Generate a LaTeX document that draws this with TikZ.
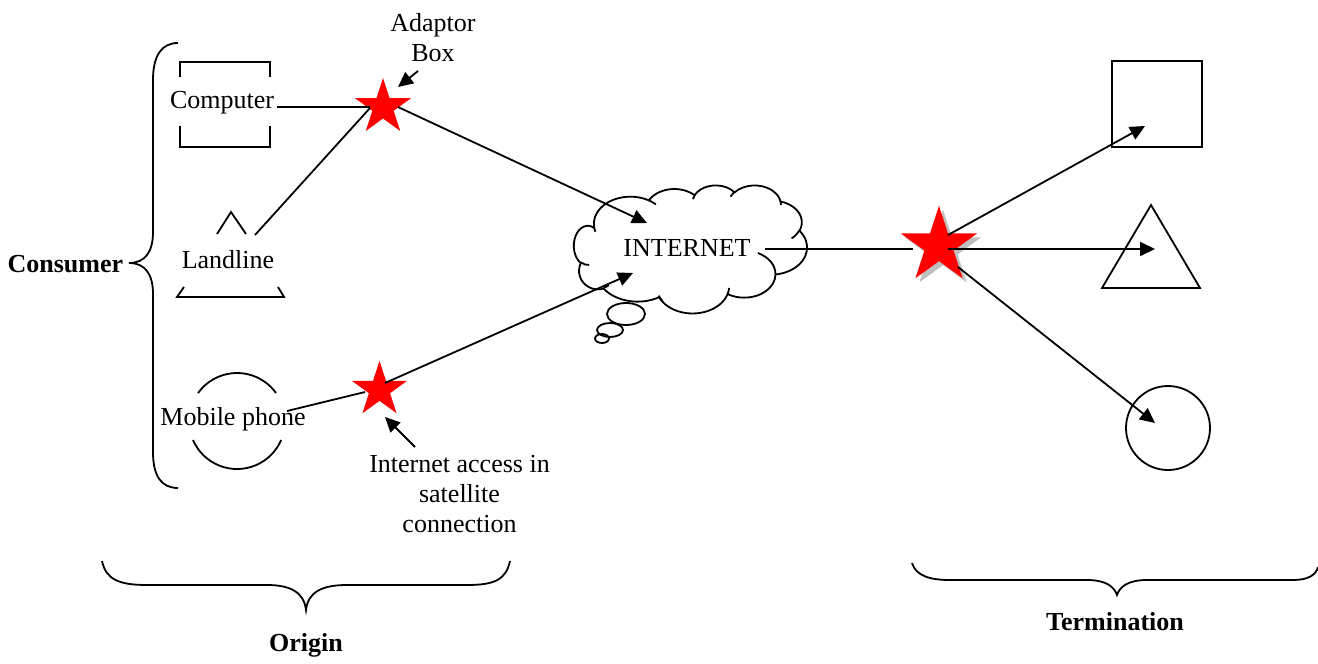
\documentclass[tikz,border=0pt]{standalone}
\usepackage{fontspec}
\setmainfont{Liberation Serif}
\usetikzlibrary{arrows.meta,shapes.geometric,calc}
\begin{document}
\begin{tikzpicture}[x=1pt,y=-1pt,
  font=\fontsize{26}{30}\selectfont,
  line width=1.8pt,
  conn/.style={draw,line width=1.8pt},
  arr/.style={conn,-{Triangle[length=15pt,width=14pt]}},
  label/.style={inner sep=0pt,align=center},
  starshape/.style={star,star points=5,star point ratio=2.618,draw=none,inner sep=0pt},
  redstar/.style={starshape,fill=red},
  brace/.style={draw,line width=1.8pt},
  outline/.style={draw,line width=1.8pt},
  % one lobe of the cloud: wR, hR (path units), rx, ry (px), start and end angle (deg)
  puff/.style n args={6}{x radius=#3, y radius=#4,
    start angle={atan2(#1*sin(#5),#2*cos(#5))},
    delta angle={mod(atan2(#1*sin(#6),#2*cos(#6))-atan2(#1*sin(#5),#2*cos(#5))+720,360)}}]
\useasboundingbox (0,0) rectangle (1318,664);

% ---- stars (adaptor box, satellite link, termination point) ----
\node[redstar,minimum size=58.6pt] (s1) at (383,107.3) {};
\node[redstar,minimum size=58pt] (s2) at (379.5,389.8) {};
\node[starshape,fill=black!25,minimum size=80.2pt] (s3shadow) at (943,249.8) {};
\node[redstar,minimum size=80.2pt] (s3) at (939,245.8) {};

% ---- consumer devices ----
\node[label] (comp) at (222,103) {Computer};
\draw[outline] (180,77) -- (180,62) -- (270,62) -- (270,77);
\draw[outline] (180,126) -- (180,147) -- (270,147) -- (270,126);

\node[label] (land) at (228,260) {Landline};
\draw[outline] (217,234) -- (231,212) -- (246,234);
\draw[outline] (184,287) -- (177,297) -- (284,297) -- (278,287);

\node[label] (mob) at (233,419) {Mobile phone};
\draw[outline] (276,393) arc[start angle=35.7,end angle=144.3,radius=48pt];
\draw[outline] (193,440) arc[start angle=203.3,end angle=336.7,radius=48pt];

% ---- internet cloud ----
\begin{scope}[shift={(573,185)}]
  \draw[outline,fill=white] (21.125,42.578)
    arc[puff={6753}{9190}{36.579}{27.230}{-190.4875}{-66.7070}]
    arc[puff={5333}{7267}{28.887}{21.532}{-144.1024}{-54.1572}]
    arc[puff={4365}{5945}{23.644}{17.615}{-145.8079}{-46.0849}]
    arc[puff={4857}{6595}{26.309}{19.541}{-130.9861}{-13.7444}]
    arc[puff={5333}{7273}{28.887}{21.550}{-78.7089}{30.3180}]
    arc[puff={6775}{9220}{36.698}{27.319}{-46.2763}{84.13}]
    arc[puff={5785}{7867}{31.335}{23.310}{0.6250}{114.6583}]
    arc[puff={6752}{9215}{36.573}{27.304}{22.4590}{149.0012}]
    arc[puff={7720}{10543}{41.817}{31.239}{66.2426}{135.6091}]
    arc[start angle=73,end angle=205,x radius=19,y radius=18.5]
    arc[start angle=120,end angle=295.8,x radius=14,y radius=20]
    -- cycle;
  % inner strokes of the lobes
  \draw[outline] (16.2,79.9) arc[start angle=85,end angle=120,x radius=14,y radius=20];
  \draw[outline] (35.9,100.2) arc[start angle=55,end angle=73,x radius=19,y radius=18.5];
  \draw[outline] (89.256,115.822) arc[puff={6752}{9215}{36.573}{27.304}{137.6242}{151.7053}];
  \draw[outline] (156.146,102.966) arc[puff={6752}{9215}{36.573}{27.304}{6.4533}{22.4517}];
  \draw[outline] (184.866,68.012) arc[puff={5785}{7867}{31.335}{23.310}{-70.2924}{0.6250}];
  \draw[outline] (226.406,45.493) arc[puff={5333}{7273}{28.887}{21.550}{30.3180}{58.0695}];
  \draw[outline] (207.588,16.077) arc[puff={4857}{6595}{26.309}{19.541}{-13.7443}{1.1146}];
  \draw[outline] (157.506,11.710) arc[puff={4857}{6595}{26.309}{19.541}{-149.1815}{-130.9861}];
  \draw[outline] (119.930,13.985) arc[puff={4365}{5945}{23.644}{17.615}{-163.4943}{-145.8079}];
  \draw[outline] (75.833,15.384) arc[puff={6753}{9190}{36.579}{27.230}{-66.7070}{-54.3876}];
  \draw[outline] (22.355,46.782) arc[puff={6753}{9190}{36.579}{27.230}{157.6544}{169.5126}];
\end{scope}
\coordinate (net) at (690,249);
\node[label] (nettext) at (687,248) {INTERNET};
\draw[outline] (626,314) ellipse [x radius=19pt,y radius=11pt];
\draw[outline] (610,330) ellipse [x radius=13pt,y radius=7pt];
\draw[outline] (602,338.5) ellipse [x radius=7pt,y radius=4.5pt];

% ---- termination devices ----
\node[draw,line width=1.8pt,minimum width=90pt,minimum height=86pt,inner sep=0pt] (sq) at (1157,104) {};
\draw[outline] (1151,205) -- (1200,288) -- (1102,288) -- cycle;
\node[circle,draw,line width=1.8pt,minimum size=84pt,inner sep=0pt] (circ) at (1168,428) {};

% ---- connector end points ----
\coordinate (compout) at (277,107);
\coordinate (landout) at (255,235);
\coordinate (mobout) at (287,411);
\coordinate (s1in) at (370,107);
\coordinate (s1inb) at (370,108);
\coordinate (s1out) at (398,107);
\coordinate (s2in) at (365,392);
\coordinate (s2out) at (385,383);
\coordinate (netinA) at (647,223);
\coordinate (netinB) at (633,273);
\coordinate (netout) at (765,249);
\coordinate (s3in) at (913,249);
\coordinate (s3a) at (948,235);
\coordinate (s3b) at (948,249);
\coordinate (s3c) at (958,267);
\coordinate (sqin) at (1145,126);
\coordinate (triin) at (1155,249);
\coordinate (circin) at (1155,423);

\draw[conn] (compout) -- (s1in);
\draw[conn] (landout) -- (s1inb);
\draw[conn] (mobout) -- (s2in);
\draw[arr] (s1out) -- (netinA);
\draw[arr] (s2out) -- (netinB);
\draw[conn] (netout) -- (s3in);
\draw[arr] (s3a) -- (sqin);
\draw[arr] (s3b) -- (triin);
\draw[arr] (s3c) -- (circin);

% ---- callouts ----
\node[label] (adaptor) at (433,38) {Adaptor\\Box};
\coordinate (adtail) at (418,71);
\coordinate (adtip) at (398,87);
\draw[arr] (adtail) -- (adtip);

\node[label] (sat) at (459.5,494) {Internet access in\\satellite\\connection};
\coordinate (sattail) at (415,447);
\coordinate (sattip) at (385,417);
\draw[arr] (sattail) -- (sattip);

% ---- grouping braces ----
\draw[brace] (178,43) .. controls (162,43) and (153,55) .. (153,80) -- (153,232)
  .. controls (153,252) and (145,263) .. (129,263)
  .. controls (145,263) and (153,274) .. (153,294) -- (153,452)
  .. controls (153,477) and (162,488) .. (178,488);
\node[label,anchor=east,font=\fontsize{26}{30}\selectfont\bfseries] (consumer) at (124,264) {Consumer};

\draw[brace] (102,561) .. controls (106,580) and (120,585) .. (147,585) -- (267,585)
  .. controls (290,585) and (304,592) .. (306,610)
  .. controls (308,592) and (322,585) .. (347,585) -- (467,585)
  .. controls (494,585) and (506,580) .. (510,561);
\node[label,font=\fontsize{26}{30}\selectfont\bfseries] (origin) at (306,645) {Origin};

\draw[brace] (912,563) .. controls (916,576) and (930,580) .. (950,580) -- (1087,580)
  .. controls (1105,580) and (1114,586) .. (1117,595)
  .. controls (1120,586) and (1129,580) .. (1147,580) -- (1293,580)
  .. controls (1308,580) and (1316,575) .. (1318,567);
\node[label,font=\fontsize{26}{30}\selectfont\bfseries] (term) at (1115,622) {Termination};
\end{tikzpicture}
\end{document}
